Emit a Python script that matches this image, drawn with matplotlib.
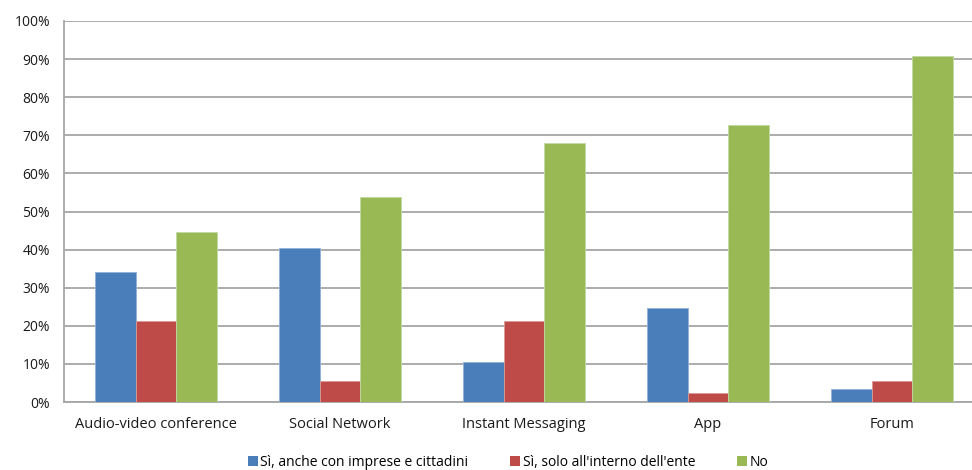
import matplotlib.pyplot as plt
import numpy as np
from matplotlib.patches import Patch

categories = ["Audio-video conference", "Social Network", "Instant Messaging", "App", "Forum"]
series_names = ["Sì, anche con imprese e cittadini", "Sì, solo all'interno dell'ente", "No"]
vals_imprese = [34.1, 40.4, 10.5, 24.7, 3.4]
vals_interno = [21.3, 5.5, 21.3, 2.4, 5.5]
vals_no = [44.6, 53.8, 68.0, 72.7, 90.8]
yticks = [0, 10, 20, 30, 40, 50, 60, 70, 80, 90, 100]
ytick_labels = [f"{v}%" for v in yticks]

colors = ["#4A7EBB", "#BE4B48", "#98B954"]
edges = ["#8FB0DA", "#DA9A98", "#C3D9A0"]

plt.rcParams['font.family'] = ['Open Sans', 'DejaVu Sans']

fig = plt.figure(figsize=(9.72, 4.70), dpi=100)
W, H = 972, 470
left, right, top, bottom = 64, 984, 21, 402
ax = fig.add_axes([left / W, 1 - bottom / H, (right - left) / W, (bottom - top) / H])

x = np.arange(len(categories))
bw = 0.221
for i, (vals, c, ec) in enumerate(zip([vals_imprese, vals_interno, vals_no], colors, edges)):
    ax.bar(x + (i - 1) * bw, vals, width=bw, color=c, edgecolor=ec, linewidth=0.6, zorder=3)

ax.set_xlim(-0.5, len(categories) - 0.5)
ax.set_ylim(0, 100)
ax.set_yticks(yticks)
ax.set_yticklabels(ytick_labels)
ax.set_xticks(x)
ax.set_xticklabels(categories)
ax.yaxis.grid(True, color="#A6A6A6", linewidth=1.3, zorder=0)
ax.set_axisbelow(True)
for s in ["top", "right"]:
    ax.spines[s].set_visible(False)
for s in ["left", "bottom"]:
    ax.spines[s].set_color("#A6A6A6")
    ax.spines[s].set_linewidth(1.3)
ax.tick_params(axis="both", length=0, labelsize=10, colors="#1A1A1A")
ax.tick_params(axis="x", labelsize=10.5)
ax.tick_params(axis="y", pad=10)
ax.tick_params(axis="x", pad=11)

handles = [Patch(facecolor=c, edgecolor="none") for c in colors]
fig.legend(handles, series_names, loc="center", bbox_to_anchor=(508 / W, 1 - 462 / H),
           ncol=3, frameon=False, fontsize=10, handlelength=0.7, handleheight=0.7,
           handletextpad=0.2, columnspacing=3.0)

fig.savefig("out.png", dpi=100)
